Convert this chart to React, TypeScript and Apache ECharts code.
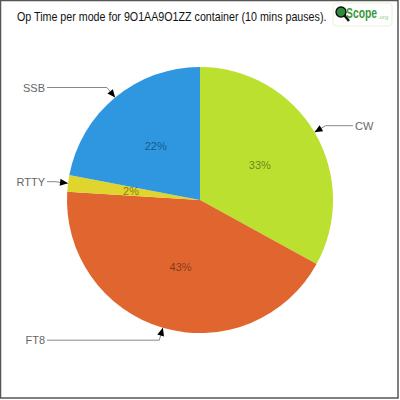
import React, { useEffect, useRef } from "react";
import * as echarts from "echarts";

const modes = ["CW", "FT8", "RTTY", "SSB"];
const shares = [33, 43, 2, 22];
const colors = ["#bce02f", "#e0652e", "#e0d42e", "#2e97e0"];
const titleText = "Op Time per mode for 9O1AA9O1ZZ container (10 mins pauses).";

const FONT = "'Liberation Sans', Arial, sans-serif";
const CX = 200;
const CY = 200;
const R = 133;

function measure(text: string, font: string) {
  const c = document.createElement("canvas").getContext("2d")!;
  c.font = font;
  return c.measureText(text).width;
}

export default function App() {
  const ref = useRef<HTMLDivElement>(null);
  useEffect(() => {
    document.body.style.margin = "0";
    const chart = echarts.init(ref.current!, null, { renderer: "svg" });
    const data = modes.map((m, i) => ({ name: m, value: shares[i], itemStyle: { color: colors[i] } }));
    const total = shares.reduce((a, b) => a + b, 0);

    // geometry per slice derived from the data
    const geo: any[] = [];
    let acc = 0;
    shares.forEach((v) => {
      const mid = ((acc + v / 2) / total) * Math.PI * 2;
      acc += v;
      const dx = Math.sin(mid);
      const dy = -Math.cos(mid);
      const E = [CX + R * dx, CY + R * dy];
      const P = [E[0] + 13 * dx, E[1] + 13 * dy];
      const left = dx < 0;
      const Q = [left ? 47 : 353, P[1]];
      geo.push({ dx, dy, E, P, Q, left });
    });

    const arrows = geo.map((g) => {
      const base = [CX + (R + 8) * g.dx, CY + (R + 8) * g.dy];
      const px = -g.dy;
      const py = g.dx;
      return {
        type: "polygon",
        z: 100,
        shape: {
          points: [
            g.E,
            [base[0] + px * 3.5, base[1] + py * 3.5],
            [base[0] - px * 3.5, base[1] - py * 3.5],
          ],
        },
        style: { fill: "#000" },
      };
    });

    const titleW = measure(titleText, `13px ${FONT}`);
    const scopeW = measure("Scope", `bold 15px ${FONT}`);

    chart.setOption({
      animation: false,
      backgroundColor: "#fff",
      graphic: [
        {
          type: "text",
          x: 17,
          y: 17,
          scaleX: 310 / titleW,
          style: {
            text: titleText,
            fontFamily: FONT,
            fontSize: 13,
            fill: "#111",
            verticalAlign: "middle",
          },
          z: 50,
        },
        {
          type: "rect",
          shape: { x: 0.5, y: 0.5, width: 397.5, height: 397.5 },
          style: { fill: "none", stroke: "#555", lineWidth: 1.5 },
          z: 200,
        },
        {
          type: "rect",
          shape: { x: 333, y: 3, width: 59, height: 23, r: 3 },
          style: { fill: "#fff", stroke: "#eef0d8", lineWidth: 1 },
          z: 100,
        },
        {
          type: "line",
          shape: { x1: 344.5, y1: 15.5, x2: 349, y2: 21 },
          style: { stroke: "#111", lineWidth: 2.5 },
          z: 101,
        },
        {
          type: "circle",
          shape: { cx: 341, cy: 12, r: 5 },
          style: { fill: "#2f8c3c", stroke: "#111", lineWidth: 1.5 },
          z: 102,
        },
        {
          type: "text",
          x: 346,
          y: 13,
          scaleX: 31 / scopeW,
          style: {
            text: "Scope",
            fontFamily: FONT,
            fontSize: 15,
            fontWeight: "bold",
            fill: "#3a9a3c",
            verticalAlign: "middle",
          },
          z: 102,
        },
        {
          type: "text",
          x: 378,
          y: 17,
          style: { text: ".org", fontFamily: FONT, fontSize: 6, fill: "#9acb8a", verticalAlign: "middle" },
          z: 102,
        },
        ...arrows,
      ],
      series: [
        {
          type: "pie",
          center: [CX, CY],
          radius: R,
          startAngle: 90,
          clockwise: true,
          data,
          itemStyle: { borderColor: "#fff", borderWidth: 1 },
          label: {
            show: true,
            position: "outside",
            formatter: "{b}",
            fontFamily: FONT,
            fontSize: 11,
            color: "#666",
          },
          labelLine: { show: true, length: 13, length2: 10, smooth: false, lineStyle: { color: "#888", width: 1 } },
          labelLayout: (p: any) => {
            const g = geo[p.dataIndex];
            return {
              x: g.left ? g.Q[0] - 2 : g.Q[0] + 2,
              y: g.P[1],
              align: g.left ? "right" : "left",
              verticalAlign: "middle",
              labelLinePoints: [g.E, g.P, g.Q],
            };
          },
          emphasis: { disabled: true },
        },
        {
          type: "pie",
          center: [CX, CY],
          radius: R,
          startAngle: 90,
          clockwise: true,
          silent: true,
          data,
          itemStyle: { color: "rgba(0,0,0,0)", borderWidth: 0 },
          label: {
            show: true,
            position: "inside",
            formatter: (p: any) => Math.round(p.percent) + "%",
            fontFamily: FONT,
            fontSize: 11,
            color: "rgba(0,0,0,0.45)",
          },
          labelLine: { show: false },
        },
      ],
    });
    return () => chart.dispose();
  }, []);
  return <div ref={ref} style={{ width: 400, height: 400 }} />;
}
